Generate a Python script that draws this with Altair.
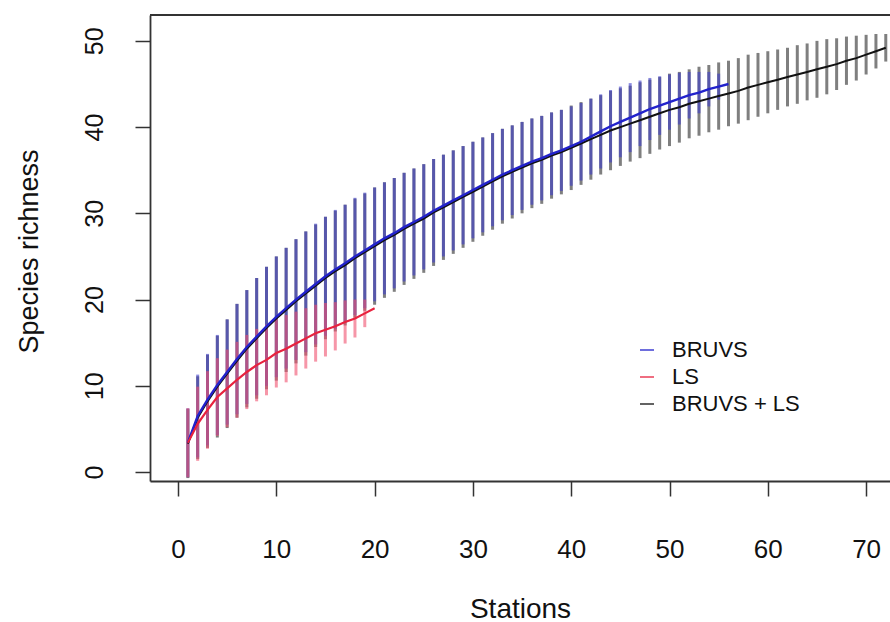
import altair as alt
import pandas as pd

# ---- data ----
series_names = ["BRUVS", "LS", "BRUVS + LS"]
series_colors = ["#2222cc", "#e8223e", "#111111"]
bar_colors = ["#3c3cc8", "#f0506e", "#2a2a2a"]

bruvs_mean = [3.4, 6.5, 8.4, 10.1, 11.6, 13.1, 14.5, 15.7, 16.9, 18.0,
              19.0, 20.0, 20.9, 21.8, 22.7, 23.5, 24.2, 25.0, 25.7, 26.4,
              27.1, 27.7, 28.4, 29.0, 29.6, 30.3, 30.9, 31.5, 32.1, 32.7,
              33.3, 33.9, 34.5, 35.0, 35.5, 36.0, 36.4, 36.9, 37.3, 37.8,
              38.3, 38.9, 39.5, 40.1, 40.6, 41.1, 41.6, 42.1, 42.5, 42.9,
              43.3, 43.7, 44.0, 44.4, 44.7, 45.0]
bruvs_hw = [4.0, 4.8, 5.3, 5.8, 6.1, 6.4, 6.6, 6.8, 6.9, 7.0,
            7.0, 7.0, 7.0, 7.0, 6.9, 6.9, 6.8, 6.8, 6.7, 6.6,
            6.5, 6.4, 6.3, 6.2, 6.1, 6.0, 5.9, 5.8, 5.7, 5.6,
            5.5, 5.4, 5.3, 5.2, 5.1, 5.0, 4.9, 4.8, 4.7, 4.6,
            4.5, 4.4, 4.3, 4.2, 4.1, 4.0, 3.8, 3.6, 3.4, 3.2,
            3.0, 2.7, 2.4, 2.0, 1.5, 0.0]

ls_mean = [3.4, 5.6, 7.2, 8.7, 9.7, 10.7, 11.6, 12.4, 13.0, 13.8,
           14.3, 14.9, 15.5, 16.1, 16.5, 16.9, 17.4, 17.8, 18.4, 19.0]
ls_hw = [4.0, 4.3, 4.5, 4.5, 4.5, 4.4, 4.3, 4.2, 4.1, 4.0,
         3.9, 3.7, 3.5, 3.3, 3.1, 2.8, 2.5, 2.2, 1.6, 0.0]

both_mean = [3.3, 6.3, 8.2, 9.9, 11.4, 12.9, 14.3, 15.5, 16.7, 17.8,
             18.8, 19.8, 20.7, 21.6, 22.5, 23.3, 24.0, 24.8, 25.5, 26.2,
             26.9, 27.5, 28.2, 28.8, 29.4, 30.1, 30.7, 31.3, 31.9, 32.5,
             33.1, 33.7, 34.3, 34.8, 35.3, 35.8, 36.2, 36.7, 37.1, 37.6,
             38.1, 38.6, 39.1, 39.6, 40.0, 40.4, 40.8, 41.2, 41.6, 42.0,
             42.3, 42.7, 43.0, 43.3, 43.6, 43.9, 44.2, 44.6, 44.9, 45.2,
             45.5, 45.8, 46.1, 46.4, 46.7, 47.0, 47.3, 47.7, 48.0, 48.4,
             48.8, 49.2]
both_hw = [4.0, 4.8, 5.4, 5.9, 6.3, 6.6, 6.8, 7.0, 7.1, 7.2,
           7.2, 7.2, 7.2, 7.1, 7.1, 7.0, 7.0, 6.9, 6.8, 6.8,
           6.7, 6.6, 6.5, 6.4, 6.3, 6.2, 6.1, 6.0, 5.9, 5.8,
           5.7, 5.6, 5.5, 5.4, 5.3, 5.2, 5.1, 5.0, 4.9, 4.9,
           4.8, 4.7, 4.6, 4.6, 4.5, 4.4, 4.4, 4.3, 4.2, 4.2,
           4.1, 4.0, 4.0, 3.9, 3.9, 3.8, 3.8, 3.8, 3.7, 3.6,
           3.5, 3.4, 3.4, 3.3, 3.3, 3.2, 3.0, 2.8, 2.6, 2.3,
           2.0, 1.6]

x_ticks = [0, 10, 20, 30, 40, 50, 60, 70]
y_ticks = [0, 10, 20, 30, 40, 50]

# ---- build table ----
rows = []
for name, means, hws, order in [("BRUVS + LS", both_mean, both_hw, 0),
                                ("BRUVS", bruvs_mean, bruvs_hw, 1),
                                ("LS", ls_mean, ls_hw, 2)]:
    for i, (m, h) in enumerate(zip(means, hws)):
        rows.append({"series": name, "station": i + 1, "mean": m,
                     "lo": m - h, "hi": m + h, "ord": order})
df = pd.DataFrame(rows)

FONT = "Liberation Sans"
W, H = 740, 466

xscale = alt.Scale(domain=[-2.85, 72.43], nice=False, zero=False)
yscale = alt.Scale(domain=[-1.04, 53.0], nice=False, zero=False)

xaxis = alt.Axis(values=x_ticks, title="Stations", grid=False, tickSize=15,
                 tickColor="#333", tickWidth=1.5, domainColor="#333", domainWidth=1.8,
                 labelFont=FONT, labelFontSize=26, labelColor="#111",
                 labelBaseline="alphabetic", labelPadding=61, labelFlush=False,
                 titleFont=FONT, titleFontSize=28, titleFontWeight="normal",
                 titleColor="#111", titleBaseline="alphabetic", titleY=136)
yaxis = alt.Axis(values=y_ticks, title="Species richness", grid=False, tickSize=15,
                 tickColor="#333", tickWidth=1.5, domainColor="#333", domainWidth=1.8,
                 labelFont=FONT, labelFontSize=25, labelColor="#111",
                 labelAngle=-90, labelAlign="center", labelBaseline="alphabetic",
                 labelPadding=33, labelFlush=False,
                 titleFont=FONT, titleFontSize=27, titleFontWeight="normal",
                 titleColor="#111", titleAngle=-90, titleBaseline="alphabetic",
                 titleX=-113, titleY=236)

base = alt.Chart(df)

bars = base.mark_rule(strokeWidth=3.0, opacity=0.6).encode(
    x=alt.X("station:Q", scale=xscale, axis=xaxis),
    y=alt.Y("lo:Q", scale=yscale, axis=yaxis),
    y2="hi:Q",
    color=alt.Color("series:N", scale=alt.Scale(domain=series_names, range=bar_colors),
                    legend=None),
    order="ord:Q",
)

color_enc = alt.Color("series:N",
                      scale=alt.Scale(domain=series_names, range=series_colors),
                      legend=alt.Legend(title=None, orient="none", legendX=486, legendY=324,
                                        symbolType="stroke", symbolSize=196,
                                        symbolStrokeWidth=2, symbolOpacity=0.65,
                                        labelFont=FONT, labelFontSize=22, labelColor="#111",
                                        labelOffset=14, rowPadding=5, padding=0))


def line_layer(name, width):
    return base.transform_filter(alt.datum.series == name).mark_line(strokeWidth=width).encode(
        x=alt.X("station:Q", scale=xscale),
        y=alt.Y("mean:Q", scale=yscale),
        color=color_enc,
        order="station:Q",
    )


lines = alt.layer(line_layer("BRUVS + LS", 2.0), line_layer("BRUVS", 2.4),
                  line_layer("LS", 2.2))

top_line = alt.Chart(pd.DataFrame({"k": [0]})).mark_rule(color="#333", strokeWidth=1.8).encode(
    x=alt.value(0), x2=alt.value(W), y=alt.value(0)
)

chart = alt.layer(bars, lines, top_line).resolve_scale(color="independent").properties(
    width=W, height=H,
    padding={"left": 150, "top": 15, "right": 0, "bottom": 141},
    autosize=alt.AutoSizeParams(type="none"),
    background="white",
).configure_view(stroke=None)

chart.save("out.html", embed_options={"renderer": "svg", "actions": False})
